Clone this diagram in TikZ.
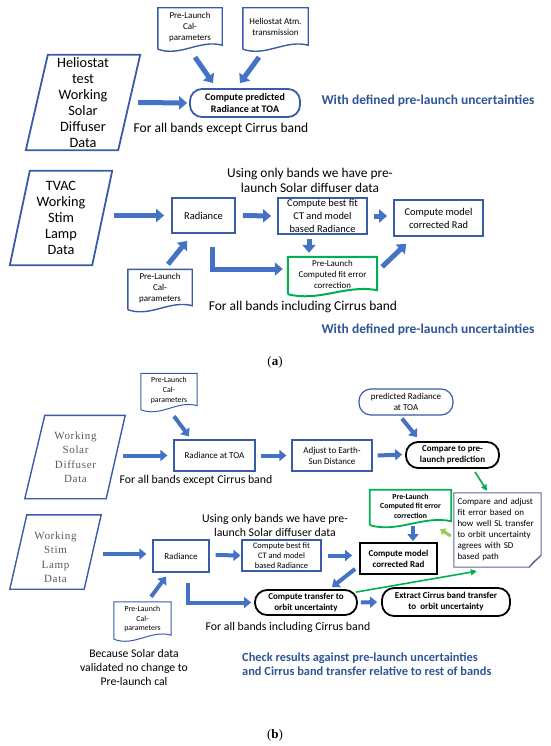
\documentclass[tikz,border=0pt]{standalone}
\usepackage{fontspec}
\setmainfont{Carlito}
\newfontfamily\oddserif[LetterSpace=6]{Liberation Serif}
\newfontfamily\capserif{Liberation Serif}
\usetikzlibrary{positioning,arrows.meta,calc}

\definecolor{arrblue}{RGB}{68,114,196}
\definecolor{boxblue}{RGB}{56,92,168}
\definecolor{txtblue}{RGB}{47,85,151}
\definecolor{okgreen}{RGB}{0,176,80}
\definecolor{ltgreen}{RGB}{146,208,80}
\definecolor{oddgray}{RGB}{90,90,90}
\definecolor{notegray}{RGB}{95,105,140}

\newcommand{\fsz}[2]{\fontsize{#1}{#2}\selectfont}
% document outline with a wavy bottom, drawn round a named node
\newcommand{\docshape}[2]{%
  \draw[#2] ([yshift=-3pt]#1.south west) -- (#1.north west) -- (#1.north east) -- ([yshift=1pt]#1.south east)
    .. controls ($(#1.south west)!0.65!(#1.south east)+(0,7pt)$) and ($(#1.south west)!0.35!(#1.south east)+(0,-11pt)$)
    .. ([yshift=-3pt]#1.south west);}

\tikzset{
  bluebox/.style={draw=boxblue, line width=1.8pt, align=center, inner sep=1pt},
  thinbox/.style={draw=boxblue, line width=1.2pt, align=center, inner sep=1pt},
  blackbox/.style={draw=black, line width=1.8pt, align=center, inner sep=1pt},
  roundbox/.style={rounded corners=12pt},
  docnode/.style={inner sep=1pt, align=center},
  blka/.style={draw=arrblue, line width=5pt, -{Triangle[length=8pt,width=13pt]}},
  blkb/.style={draw=arrblue, line width=4pt, -{Triangle[length=7pt,width=11pt]}},
  grnarr/.style={draw=okgreen, line width=1.6pt, -{Triangle[length=6pt,width=6pt]}},
  ltgrnarr/.style={draw=ltgreen, line width=3pt, -{Triangle[length=5pt,width=8pt]}},
  lbl/.style={inner sep=0pt, align=center}
}

\begin{document}
\begin{tikzpicture}[x=1pt,y=-1pt]
\useasboundingbox (0,0) rectangle (550,746);

%% fig a
\node[docnode, minimum width=64pt, minimum height=38pt, font=\fsz{9}{11}] (pcal1) at (190,27) {Pre-Launch\\Cal-\\parameters};
\node[docnode, minimum width=65pt, minimum height=38pt, font=\fsz{9}{11}] (helatm) at (275.5,27) {Heliostat Atm.\\transmission};
\docshape{pcal1}{boxblue, line width=1.4pt}
\docshape{helatm}{boxblue, line width=1.4pt}
\node[lbl, minimum width=70pt, minimum height=95pt, font=\fsz{14.3}{16}] (helio) at (83,102.5) {Heliostat\\test\\Working\\Solar\\Diffuser\\Data};
\draw[boxblue, line width=1.8pt] (helio.north west) -- ([xshift=22pt]helio.north east) -- (helio.south east) -- ([xshift=-22pt]helio.south west) -- cycle;
\node[bluebox, roundbox, minimum width=110pt, minimum height=28pt, font=\bfseries\fsz{10}{12.5}] (predrad) at (245,103) {Compute predicted\\Radiance at TOA};
\node[lbl, font=\fsz{13.5}{15}] (exceptA) at (221,129) {For all bands except Cirrus band};
\node[lbl, font=\bfseries\fsz{13.5}{15}, text=txtblue] (withA1) at (428,101) {With defined pre-launch uncertainties};
% arrows into the prediction
\draw[blka] ([xshift=5pt,yshift=-11pt]pcal1.south) -- ([xshift=-32pt,yshift=5pt]predrad.north);
\draw[blka] ([xshift=-16.5pt,yshift=-11pt]helatm.south) -- ([xshift=-5pt,yshift=5pt]predrad.north);
\draw[blka] ([xshift=20pt]helio.east) -- ([xshift=-2pt]predrad.west);

% stim lamp path
\node[lbl, minimum width=62pt, minimum height=94pt, font=\fsz{14.3}{16}] (tvac) at (61,218) {TVAC\\Working\\Stim\\Lamp\\Data};
\draw[boxblue, line width=1.8pt] (tvac.north west) -- ([xshift=20pt]tvac.north east) -- (tvac.south east) -- ([xshift=-20pt]tvac.south west) -- cycle;
\node[bluebox, minimum width=63pt, minimum height=35pt, font=\fsz{10.5}{13}] (rad1) at (203.5,215.5) {Radiance};
\node[bluebox, inner sep=0pt, minimum width=89pt, minimum height=36pt, font=\fsz{10.4}{13}] (fit1) at (322.5,216) {Compute best fit\\CT and model\\based Radiance};
\node[bluebox, minimum width=89pt, minimum height=36pt, font=\fsz{10.4}{13}] (mod1) at (438.5,218) {Compute model\\corrected Rad};
\node[docnode, minimum width=89pt, minimum height=34pt, font=\fsz{8.9}{11}] (err1) at (332.5,274) {Pre-Launch\\Computed fit error\\correction};
\docshape{err1}{okgreen, line width=2pt}
\node[docnode, minimum width=64pt, minimum height=37pt, font=\fsz{9}{11}] (pcal2) at (160,288) {Pre-Launch\\Cal-\\parameters};
\docshape{pcal2}{boxblue, line width=1.4pt}
\node[lbl, font=\fsz{13.4}{15}] (usingA) at (310,180) {Using only bands we have pre-\\launch Solar diffuser data};
\node[lbl, font=\fsz{13.5}{15}] (inclA) at (303,307) {For all bands including Cirrus band};
\node[lbl, font=\bfseries\fsz{13.5}{15}, text=txtblue] (withA2) at (428,330) {With defined pre-launch uncertainties};
\node[lbl, font=\capserif\fsz{13}{15}] (capA) at (275,362) {(\textbf{a})};
\draw[blka] ([xshift=22pt,yshift=2.5pt]tvac.east) -- ([xshift=-7pt]rad1.west);
\draw[blka] ([xshift=7pt]rad1.east) -- ([xshift=-6pt]fit1.west);
\draw[blka] ([xshift=6pt]fit1.east) -- ([xshift=-6pt,yshift=2pt]mod1.west);
\draw[blka] ([xshift=-13.5pt,yshift=-4pt]fit1.south) -- ([xshift=-23.5pt,yshift=4pt]err1.north);
\draw[blka] ([xshift=5pt,yshift=-10pt]err1.north east) -- ([xshift=13pt,yshift=-7pt]mod1.south west);
\draw[blka] ([xshift=8.5pt,yshift=-13pt]rad1.south) |- ([xshift=-5pt,yshift=5pt]err1.west);
\draw[blka] ([xshift=8pt,yshift=5pt]pcal2.north) -- ([xshift=-16.5pt,yshift=-7pt]rad1.south);

%% fig b
\node[docnode, minimum width=56pt, minimum height=33pt, font=\fsz{7.8}{10}] (pcal3) at (169,390) {Pre-Launch\\Cal-\\parameters};
\docshape{pcal3}{boxblue, line width=1pt}
\node[lbl, minimum width=61pt, minimum height=83pt, font=\oddserif\fsz{11}{14.5}, text=oddgray] (solar) at (75.5,457) {Working\\Solar\\Diffuser\\Data};
\draw[boxblue, line width=1.4pt] (solar.north west) -- ([xshift=19pt]solar.north east) -- (solar.south east) -- ([xshift=-20pt]solar.south west) -- cycle;
\node[thinbox, minimum width=81pt, minimum height=31pt, font=\fsz{9}{11}] (radtoa) at (214.5,455.5) {Radiance at TOA};
\node[thinbox, minimum width=80pt, minimum height=31pt, font=\fsz{9}{11}] (adjust) at (332,455.5) {Adjust to Earth-\\Sun Distance};
\node[blackbox, roundbox, minimum width=93pt, minimum height=26pt, font=\bfseries\fsz{9}{11}] (compare) at (452.5,455) {Compare to pre-\\launch prediction};
\node[thinbox, roundbox, minimum width=94pt, minimum height=26pt, font=\fsz{9}{11}] (predb) at (406,402) {predicted Radiance\\at TOA};
\node[lbl, font=\fsz{11.8}{14}] (exceptB) at (196,480) {For all bands except Cirrus band};
\node[docnode, minimum width=81pt, minimum height=32pt, font=\bfseries\fsz{7.8}{9.5}] (err2) at (410.5,506) {Pre-Launch\\Computed fit error\\correction};
\docshape{err2}{okgreen, line width=1.8pt}
\node[lbl, text width=80pt, minimum height=74pt, inner xsep=3.5pt, align=left, font=\fsz{9}{11}] (note) at (497.5,530) {Compare and adjust\\fit error based on\\how well SL transfer\\to orbit uncertainty\\agrees with SD\\based path};
\draw[notegray, line width=1pt] (note.north west) -- (note.north east) -- ([yshift=12pt]note.south east) -- ([xshift=-12pt]note.south east) -- (note.south west) -- cycle;
\draw[notegray, line width=1pt] ([yshift=12pt]note.south east) -- ([xshift=-8pt,yshift=5pt]note.south east) -- ([xshift=-12pt]note.south east);
\node[lbl, font=\fsz{11.8}{14}] (usingB) at (275,525) {Using only bands we have pre-\\launch Solar diffuser data};
\node[lbl, minimum width=57pt, minimum height=74pt, font=\oddserif\fsz{11}{14.5}, text=oddgray] (stim) at (55.5,557) {Working\\Stim\\Lamp\\Data};
\draw[boxblue, line width=1.4pt] ([yshift=5pt]stim.north west) -- ([xshift=17pt,yshift=5pt]stim.north east) -- ([yshift=5pt]stim.south east) -- ([xshift=-17pt,yshift=5pt]stim.south west) -- cycle;
\node[thinbox, minimum width=56pt, minimum height=32pt, font=\fsz{9}{11}] (rad2) at (181,556) {Radiance};
\node[thinbox, inner sep=0pt, minimum width=79pt, minimum height=31pt, font=\fsz{8.4}{10}] (fit2) at (281.5,555.5) {Compute best fit\\CT and model\\based Radiance};
\node[blackbox, minimum width=77pt, minimum height=31pt, font=\bfseries\fsz{9}{11}] (mod2) at (398.5,558.5) {Compute model\\corrected Rad};
\node[blackbox, roundbox, minimum width=102pt, minimum height=25pt, font=\bfseries\fsz{9}{11}] (transf) at (306,602.5) {Compute transfer to\\orbit uncertainty};
\node[blackbox, roundbox, minimum width=128pt, minimum height=28pt, font=\bfseries\fsz{9}{11}] (extract) at (446,602) {Extract Cirrus band transfer\\to\ \ orbit uncertainty};
\node[docnode, minimum width=57pt, minimum height=34pt, font=\fsz{7.8}{9.5}] (pcal4) at (142.5,619) {Pre-Launch\\Cal-\\parameters};
\docshape{pcal4}{boxblue, line width=1pt}
\node[lbl, font=\fsz{11.8}{14}] (inclB) at (288,627) {For all bands including Cirrus band};
\node[lbl, font=\fsz{11.7}{14}] (because) at (134,667) {Because Solar data\\validated no change to\\Pre-launch cal};
\node[lbl, anchor=west, align=left, font=\bfseries\fsz{12.4}{14}, text=txtblue] (checkB) at (242,664) {Check results against pre-launch uncertainties\\and Cirrus band transfer relative to rest of bands};
\node[lbl, font=\capserif\fsz{13}{15}] (capB) at (275,735) {(\textbf{b})};
% connectors of fig b
\draw[blkb] ([xshift=5pt,yshift=-9.5pt]pcal3.south) -- ([xshift=-25.5pt,yshift=3pt]radtoa.north);
\draw[blkb] ([xshift=17pt,yshift=1.5pt]solar.east) -- ([xshift=-6pt]radtoa.west);
\draw[blkb] ([xshift=5pt]radtoa.east) -- ([xshift=-5pt]adjust.west);
\draw[blkb] ([xshift=5pt]adjust.east) -- ([xshift=-3pt,yshift=0.5pt]compare.west);
\draw[blkb] ([xshift=-4pt,yshift=-3pt]predb.south) -- ([xshift=-35.5pt,yshift=4pt]compare.north);
\draw[grnarr] ([xshift=22.5pt,yshift=-3pt]compare.south) -- ([xshift=-10.5pt,yshift=2pt]note.north);
\draw[blkb] ([xshift=2.5pt,yshift=-4pt]err2.south) -- ([xshift=14.5pt,yshift=1pt]mod2.north);
\draw[ltgrnarr] ([xshift=-3pt,yshift=-6pt]note.west) -- ([xshift=-11pt,yshift=-7pt]err2.south east);
\draw[blkb] ([xshift=6pt]fit2.east) -- ([xshift=-7pt,yshift=3pt]mod2.west);
\draw[blkb] ([xshift=19pt,yshift=3pt]stim.east) -- ([xshift=-6pt,yshift=2pt]rad2.west);
\draw[blkb] ([xshift=6pt,yshift=1pt]rad2.east) -- ([xshift=-1pt]fit2.west);
\draw[blkb] ([xshift=8.5pt,yshift=5pt]pcal4.north) -- ([xshift=-15pt,yshift=-4pt]rad2.south);
\draw[blkb] ([xshift=7pt,yshift=-10pt]rad2.south) |- ([xshift=-3pt]transf.west);
\draw[blkb] ([xshift=-4pt,yshift=6pt]mod2.south west) -- ([xshift=26pt,yshift=2pt]transf.north);
\draw[grnarr] ([xshift=-2pt,yshift=-3pt]transf.north east) -- ([xshift=23pt,yshift=-4pt]note.south west);
\draw[blkb] ([xshift=3pt]transf.east) -- ([xshift=-4pt]extract.west);
\end{tikzpicture}
\end{document}
